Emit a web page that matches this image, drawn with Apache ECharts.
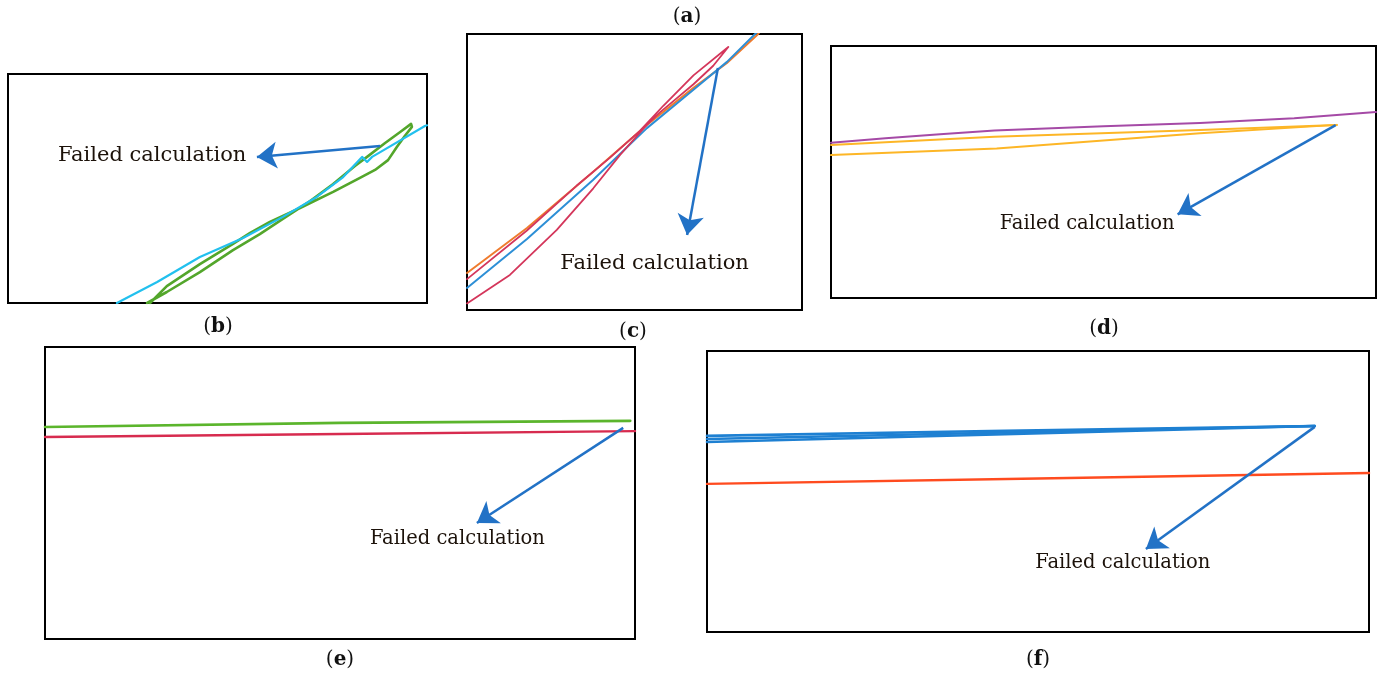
<!DOCTYPE html>
<html>
<head>
<meta charset="utf-8">
<script src="https://cdn.jsdelivr.net/npm/echarts@6/dist/echarts.min.js"></script>
<style>
  html, body { margin: 0; padding: 0; background: #ffffff; }
  #chart { width: 1387px; height: 674px; }
</style>
</head>
<body>
<div id="chart"></div>
<script>
// Each panel uses its own 0–100 data frame (x to the right, y upward).

// (b) two traces, the green one folding back on itself
const bCyan = [[26.0, 0], [35.6, 9.2], [45.8, 20.1], [56.1, 28.4], [65.6, 37.6], [73.7, 46.3],
  [80.0, 55.0], [84.5, 63.8], [85.7, 61.6], [86.9, 63.8], [99.5, 77.3], [100, 77.6]];
const bGreen = [[33.2, 0], [37.9, 4.8], [45.8, 13.5], [53.7, 23.1], [60.1, 30.1], [65.6, 36.7],
  [72.1, 44.5], [77.6, 52.0], [82.8, 59.8], [85.7, 63.8], [90.0, 69.9], [93.6, 74.7], [96.2, 78.2],
  [96.4, 76.9], [94.7, 72.9], [92.8, 68.1], [90.7, 62.4], [87.6, 58.1], [84.0, 54.6], [77.6, 48.5],
  [69.7, 41.5], [62.5, 35.4], [57.8, 30.6], [53.7, 25.8], [45.8, 17.0], [37.9, 7.4], [33.9, 0]];

// (c) three traces, the red one looping at the top
const cOrange = [[0, 13.4], [17.9, 29.7], [37.6, 50.0], [53.7, 67.0], [67.5, 80.4], [77.6, 89.5], [86.6, 99.6], [87.2, 100.5]];
const cBlue = [[0, 8.0], [17.9, 25.7], [37.6, 47.1], [53.7, 65.9], [67.5, 79.7], [77.6, 89.9], [86.0, 100], [86.5, 100.6]];
const cRed = [[0, 2.4], [12.8, 12.7], [26.8, 29.0], [37.7, 44.1], [45.7, 56.2], [53.6, 67.0],
  [57.6, 71.6], [61.6, 75.7], [67.6, 81.8], [73.5, 88.5], [78.0, 95.3], [67.6, 85.0], [58.6, 74.0],
  [51.6, 64.9], [42.7, 55.2], [32.7, 45.0], [17.8, 28.7], [0, 11.2]];

// (d) purple trace and the two branches of the yellow trace
const dPurple = [[0, 61.6], [10, 63.4], [20, 65.0], [30, 66.5], [50, 68.2], [67.7, 69.4], [85, 71.3], [100, 73.8]];
const dYellowUpper = [[0, 60.7], [30, 64.0], [67.7, 66.7], [92.8, 68.7]];
const dYellowLower = [[0, 56.7], [30.4, 59.3], [67.7, 65.4], [92.8, 68.7]];

// (e)
const eGreen = [[0, 72.6], [50, 74.0], [99.2, 74.7]];
const eRed = [[0, 69.2], [50, 70.2], [100, 71.2]];

// (f) bundle of blue traces and the orange trace
const fBlueA = [[0, 69.8], [45, 71.6], [91.8, 73.3]];
const fBlueB = [[0, 68.7], [45, 71.0], [91.8, 73.3]];
const fBlueC = [[0, 67.6], [45, 70.4], [91.8, 73.3]];
const fOrange = [[0, 52.7], [50, 54.6], [100, 56.6]];

// annotation arrows (from, to) and text anchors, in each panel's frame
const arrowB = [[88.8, 68.6], [59.4, 63.8]];
const arrowC = [[74.9, 87.7], [65.7, 27.2]];
const arrowD = [[92.6, 68.6], [63.6, 33.2]];
const arrowE = [[98.0, 72.3], [73.2, 39.7]];
const arrowF = [[91.8, 73.0], [66.3, 29.5]];
const noteB = [34.4, 64.2];
const noteC = [56.0, 17.0];
const noteD = [47.0, 29.4];
const noteE = [69.9, 34.2];
const noteF = [62.8, 24.6];
const noteText = 'Failed calculation';

const panelLetters = ['a', 'b', 'c', 'd', 'e', 'f'];

// ---- layout ----
const grids = [
  { left: 8,   top: 74,  width: 419, height: 229 },  // b
  { left: 467, top: 34,  width: 335, height: 276 },  // c
  { left: 831, top: 46,  width: 545, height: 252 },  // d
  { left: 45,  top: 347, width: 590, height: 292 },  // e
  { left: 707, top: 351, width: 662, height: 281 }   // f
];
const letterPos = [[687, 17], [218, 327], [633, 332], [1104, 329], [340, 660], [1038, 660]];

const ARROW = '#2272c6';
const TEXT = '#1c120a';
const SERIF = 'DejaVu Serif';

function trace(gi, data, color, width) {
  return {
    type: 'line', xAxisIndex: gi, yAxisIndex: gi, data: data,
    symbol: 'none', showSymbol: false, silent: true, clip: true,
    lineStyle: { color: color, width: width, join: 'round', cap: 'round' }, z: 2
  };
}

function note(gi, arrow, anchor, size) {
  return {
    type: 'scatter', xAxisIndex: gi, yAxisIndex: gi, silent: true, z: 5,
    data: [anchor], symbolSize: 0, itemStyle: { color: ARROW },
    label: {
      show: true, position: 'inside', formatter: noteText,
      fontFamily: SERIF, fontSize: size, color: TEXT,
      textBorderWidth: 0, opacity: 1
    },
    markLine: {
      silent: true, symbol: ['none', 'arrow'], symbolSize: 20,
      label: { show: false },
      itemStyle: { color: ARROW },
      lineStyle: { type: 'solid', color: ARROW, width: 2.5, opacity: 1 },
      emphasis: { disabled: true },
      data: [[{ coord: arrow[0] }, { coord: arrow[1] }]]
    }
  };
}

const series = [
  trace(0, bGreen, '#53a62b', 2.6),
  trace(0, bCyan, '#22c0ee', 2.2),

  trace(1, cOrange, '#ef7b2d', 2.0),
  trace(1, cBlue, '#2d8fd6', 2.0),
  trace(1, cRed, '#d4365b', 1.8),

  trace(2, dYellowUpper, '#fdb626', 2.0),
  trace(2, dYellowLower, '#fdb626', 2.0),
  trace(2, dPurple, '#a54aa6', 2.0),

  trace(3, eGreen, '#5bb52c', 2.6),
  trace(3, eRed, '#d72b4f', 2.4),

  trace(4, fOrange, '#ff4b1f', 2.4),
  trace(4, fBlueA, '#1e80d2', 2.6),
  trace(4, fBlueB, '#1e80d2', 2.6),
  trace(4, fBlueC, '#1e80d2', 2.6),

  note(0, arrowB, noteB, 21),
  note(1, arrowC, noteC, 21),
  note(2, arrowD, noteD, 19.5),
  note(3, arrowE, noteE, 19.5),
  note(4, arrowF, noteF, 19.5)
];

const letters = panelLetters.map(function (l, i) {
  return {
    type: 'text', x: letterPos[i][0], y: letterPos[i][1], silent: true,
    style: {
      text: '{p|(}{l|' + l + '}{p|)}',
      align: 'center', verticalAlign: 'middle',
      rich: {
        p: { fontFamily: SERIF, fontSize: 20, fill: '#111', fontWeight: 'normal' },
        l: { fontFamily: SERIF, fontSize: 20, fill: '#111', fontWeight: 'bold' }
      }
    }
  };
});

const chart = echarts.init(document.getElementById('chart'), null, { renderer: 'canvas' });
chart.setOption({
  animation: false,
  backgroundColor: '#ffffff',
  grid: grids.map(function (g) {
    return Object.assign({ show: true, borderColor: '#000', borderWidth: 2, backgroundColor: 'transparent', containLabel: false }, g);
  }),
  xAxis: grids.map(function (g, i) {
    return { type: 'value', gridIndex: i, min: 0, max: 100, show: false };
  }),
  yAxis: grids.map(function (g, i) {
    return { type: 'value', gridIndex: i, min: 0, max: 100, show: false };
  }),
  series: series,
  graphic: letters
});
</script>
</body>
</html>
